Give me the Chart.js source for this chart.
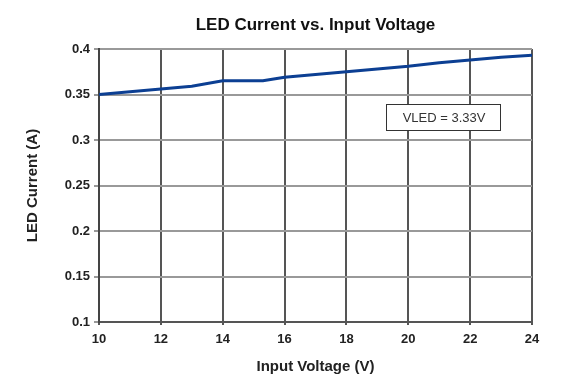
<!DOCTYPE html>
<html>
<head>
<meta charset="utf-8">
<script src="https://cdn.jsdelivr.net/npm/chart.js@4"></script>
<style>
  html, body { margin: 0; padding: 0; background: #fff; }
  #wrap { width: 570px; height: 389px; }
</style>
</head>
<body>
<div id="wrap"><canvas id="led-chart" width="570" height="389"></canvas></div>
<script>
// Données
const inputVoltage = [10, 11, 12, 13, 14, 15, 15.3, 16, 17, 18, 19, 20, 21, 22, 23, 24];
const ledCurrent = [0.350, 0.353, 0.356, 0.359, 0.365, 0.365, 0.365, 0.369, 0.372, 0.375, 0.378, 0.381, 0.385, 0.388, 0.391, 0.393];
const xTicks = [10, 12, 14, 16, 18, 20, 22, 24];
const yTicks = [0.1, 0.15, 0.2, 0.25, 0.3, 0.35, 0.4];

const chartTitle = 'LED Current vs. Input Voltage';
const noteText = 'VLED = 3.33V';

const FONT = "'Liberation Sans', Arial, sans-serif";

// Titre centré sur la zone de tracé + encadré VLED
const overlayPlugin = {
  id: 'overlay',
  afterDraw(chart) {
    const { ctx, chartArea } = chart;
    ctx.save();
    ctx.fillStyle = '#111';
    ctx.font = 'bold 17px ' + FONT;
    ctx.textAlign = 'center';
    ctx.textBaseline = 'middle';
    ctx.fillText(chartTitle, (chartArea.left + chartArea.right) / 2, 25);

    const bx = chartArea.left + 287;
    const by = chartArea.top + 55;
    const bw = 114;
    const bh = 26;
    ctx.fillStyle = '#fff';
    ctx.fillRect(bx, by, bw, bh);
    ctx.strokeStyle = '#333';
    ctx.lineWidth = 1;
    ctx.strokeRect(bx + 0.5, by + 0.5, bw, bh);
    ctx.fillStyle = '#333';
    ctx.font = '13px ' + FONT;
    ctx.fillText(noteText, bx + bw / 2 + 1, by + bh / 2 + 1);
    ctx.restore();
  }
};

new Chart(document.getElementById('led-chart'), {
  type: 'line',
  data: {
    datasets: [{
      data: inputVoltage.map((v, i) => ({ x: v, y: ledCurrent[i] })),
      borderColor: '#0c3f93',
      borderWidth: 3,
      pointRadius: 0,
      tension: 0,
      fill: false
    }]
  },
  options: {
    responsive: false,
    animation: false,
    layout: { padding: { top: 49, right: 38, left: 0, bottom: 0 } },
    plugins: {
      legend: { display: false },
      title: { display: false },
      tooltip: { enabled: false }
    },
    scales: {
      x: {
        type: 'linear',
        min: 10,
        max: 24,
        afterFit(scale) { scale.height = 67; },
        afterBuildTicks(scale) { scale.ticks = xTicks.map(v => ({ value: v })); },
        ticks: {
          color: '#222',
          padding: 7,
          maxRotation: 0,
          font: { family: FONT, size: 13, weight: 'bold' }
        },
        grid: { color: '#555', lineWidth: 2, tickLength: 3 },
        border: { color: '#555', width: 2 },
        title: {
          display: true,
          text: 'Input Voltage (V)',
          color: '#222',
          font: { family: FONT, size: 15, weight: 'bold' },
          padding: { top: 0, bottom: 13 }
        }
      },
      y: {
        min: 0.1,
        max: 0.4,
        afterFit(scale) { scale.width = 99; },
        afterBuildTicks(scale) { scale.ticks = yTicks.map(v => ({ value: v })); },
        ticks: {
          color: '#222',
          padding: 4,
          font: { family: FONT, size: 13, weight: 'bold' },
          callback: value => String(parseFloat(value.toFixed(2)))
        },
        grid: { color: '#999', lineWidth: 2, tickLength: 5 },
        border: { color: '#444', width: 2 },
        title: {
          display: true,
          text: 'LED Current (A)',
          color: '#222',
          font: { family: FONT, size: 15, weight: 'bold' },
          padding: { top: 24, bottom: 0 }
        }
      }
    }
  },
  plugins: [overlayPlugin]
});
</script>
</body>
</html>
